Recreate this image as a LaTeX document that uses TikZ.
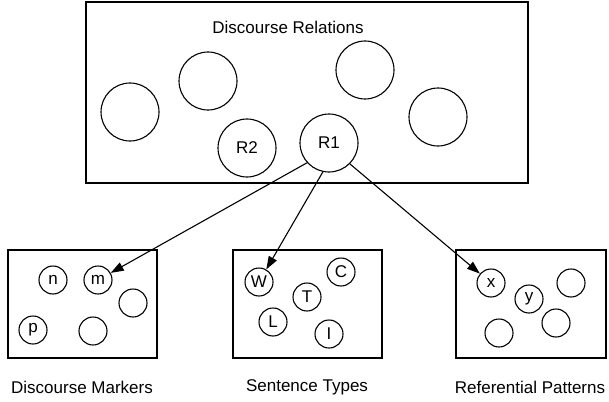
\documentclass[tikz,border=0pt]{standalone}
\usepackage{fontspec}
\setmainfont{Liberation Sans}
\usetikzlibrary{arrows.meta, positioning}

\begin{document}
\begin{tikzpicture}[
  x=1pt, y=-1pt,
  every node/.style = {font=\fontsize{17}{20}\selectfont},
  block/.style = {draw, line width=1.3pt, inner sep=0pt},
  rel/.style = {draw, circle, line width=1.1pt, minimum size=58pt, inner sep=0pt},
  item/.style = {draw, circle, line width=1.1pt, minimum size=28pt, inner sep=0pt},
  arrow/.style = {line width=1.1pt, -{Triangle[length=13pt, width=9pt]}}
]
  \useasboundingbox (0,0) rectangle (609,401);

  % Discourse relations
  \node[block, minimum width=442pt, minimum height=181pt] (relations) at (307,92.5) {};
  \node (relations_lbl) at (288,27) {Discourse Relations};
  \node[rel] (rel_a) at (130,112) {};
  \node[rel] (rel_b) at (208,81) {};
  \node[rel] (rel_c) at (365,70) {};
  \node[rel] (rel_d) at (438,117) {};
  \node[rel] (r2) at (247,148) {R2};
  \node[rel] (r1) at (329,143) {R1};

  % Discourse markers
  \node[block, minimum width=149pt, minimum height=108pt] (markers) at (82.5,304) {};
  \node[item] (n) at (53,280) {n};
  \node[item] (m) at (98,280) {m};
  \node[item] (mk_a) at (133,303) {};
  \node[item] (p) at (33,330) {p};
  \node[item] (mk_b) at (93,331) {};
  \node (markers_lbl) at (82,387) {Discourse Markers};

  % Sentence types
  \node[block, minimum width=149pt, minimum height=108pt] (types) at (307.5,304) {};
  \node[item] (w) at (259,282) {W};
  \node[item] (c) at (341,272) {C};
  \node[item] (t) at (307,297) {T};
  \node[item] (l) at (273,322) {L};
  \node[item] (i) at (329,334) {I};
  \node (types_lbl) at (307,387) {Sentence Types};

  % Referential patterns
  \node[block, minimum width=150pt, minimum height=108pt] (patterns) at (531,304) {};
  \node[item] (x) at (491,283) {x};
  \node[item] (y) at (529,299) {y};
  \node[item] (rp_a) at (571,283) {};
  \node[item] (rp_b) at (556,323) {};
  \node[item] (rp_c) at (499,333) {};
  \node (patterns_lbl) at (530,387) {Referential Patterns};

  % Links
  \draw[arrow] (r1.222) -- (m);
  \draw[arrow] (r1.258) -- (w);
  \draw[arrow] (r1.315) -- (x);

\end{tikzpicture}
\end{document}
